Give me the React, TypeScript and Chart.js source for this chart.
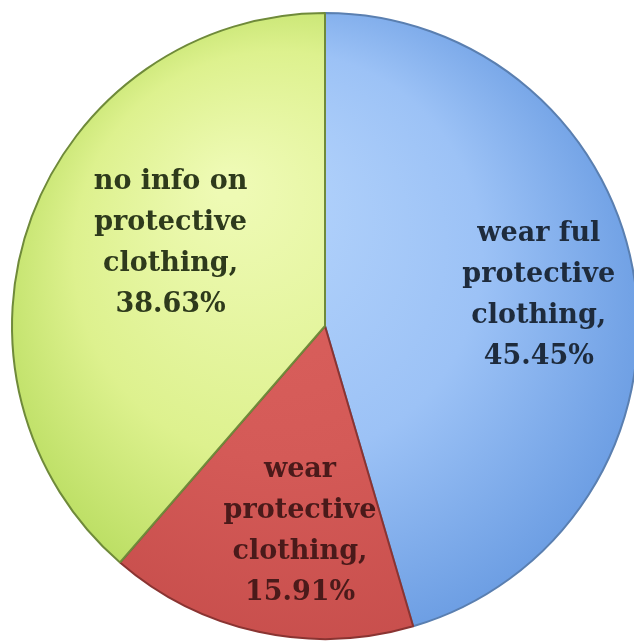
import React, { useEffect, useRef } from "react";
import { Chart, registerables } from "chart.js";

Chart.register(...registerables);

const categories: string[][] = [
  ["wear ful", "protective", "clothing,", "45.45%"],
  ["wear", "protective", "clothing,", "15.91%"],
  ["no info on", "protective", "clothing,", "38.63%"],
];
const values: number[] = [45.45, 15.91, 38.63];

const gradStops: [string, string, string][] = [
  ["#b6d5fc", "#9cc2f6", "#5a90dc"],
  ["#dc625f", "#d45a57", "#c44b49"],
  ["#eefab4", "#ddf18e", "#a9d44c"],
];
const borderCols = ["#5a7fb0", "#8a3432", "#6f8a3a"];

const labelPlugin = {
  id: "sliceLabels",
  afterDatasetsDraw(chart: any) {
    const ctx = chart.ctx;
    const meta = chart.getDatasetMeta(0);
    const tweaks = [
      { f: 0.69, a: 0.0 },
      { f: 0.66, a: -0.093 },
      { f: 0.56, a: 0.136 },
    ];
    meta.data.forEach((arc: any, i: number) => {
      const mid = (arc.startAngle + arc.endAngle) / 2 + tweaks[i].a;
      const r = arc.outerRadius * tweaks[i].f;
      const cx = arc.x + Math.cos(mid) * r;
      const cy = arc.y + Math.sin(mid) * r;
      const lines = categories[i];
      const lh = 41;
      ctx.save();
      ctx.font = "bold 27px 'DejaVu Serif', 'Liberation Serif', serif";
      ctx.textAlign = "center";
      ctx.textBaseline = "middle";
      ctx.fillStyle = i === 1 ? "#4a1a1a" : i === 0 ? "#1e2b3c" : "#2e3a1c";
      lines.forEach((t, k) => {
        ctx.fillText(t, cx, cy + (k - (lines.length - 1) / 2) * lh);
      });
      ctx.restore();
    });
  },
};

export default function App() {
  const ref = useRef<HTMLCanvasElement>(null);
  useEffect(() => {
    document.body.style.margin = "0";
    document.body.style.overflow = "hidden";
    const chart = new Chart(ref.current!, {
      type: "pie",
      data: {
        labels: categories.map((c) => c.join(" ")),
        datasets: [
          {
            data: values,
            backgroundColor: (c: any) => {
              const area = c.chart.chartArea;
              if (!area) return gradStops[c.dataIndex][1];
              const cx = (area.left + area.right) / 2;
              const cy = (area.top + area.bottom) / 2;
              const R = Math.min(area.right - area.left, area.bottom - area.top) / 2;
              const g = c.chart.ctx.createRadialGradient(cx - R * 0.3, cy - R * 0.45, R * 0.05, cx, cy, R * 1.25);
              const s = gradStops[c.dataIndex];
              g.addColorStop(0, s[0]);
              g.addColorStop(0.5, s[1]);
              g.addColorStop(1, s[2]);
              return g;
            },
            borderColor: borderCols,
            borderWidth: 2,
          },
        ],
      },
      options: {
        responsive: false,
        animation: false,
        layout: { padding: { top: 12, bottom: 3, left: 11, right: 11 } },
        plugins: { legend: { display: false }, tooltip: { enabled: false } },
      },
      plugins: [labelPlugin],
    });
    return () => chart.destroy();
  }, []);
  return (
    <div style={{ position: "absolute", left: 0, top: 0, width: 650, height: 643 }}>
      <canvas ref={ref} width={650} height={643} />
    </div>
  );
}
